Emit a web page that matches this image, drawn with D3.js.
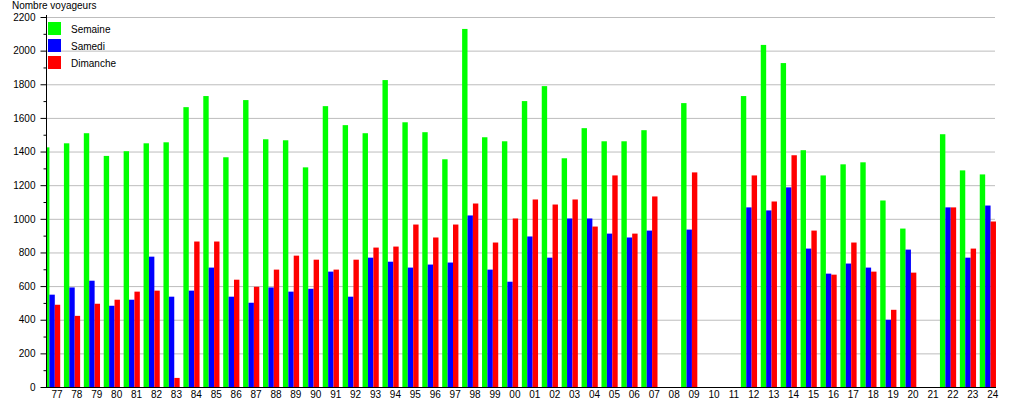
<!DOCTYPE html>
<html><head><meta charset="utf-8">
<script src="https://cdn.jsdelivr.net/npm/d3@7"></script>
<style>
body{margin:0;background:#fff;}
text{font-family:"Liberation Sans",Arial,sans-serif;}
</style></head>
<body>
<svg id="chart" width="1015" height="400"></svg>
<script>
const years = ["77","78","79","80","81","82","83","84","85","86","87","88","89","90","91","92","93","94","95","96","97","98","99","00","01","02","03","04","05","06","07","08","09","10","11","12","13","14","15","16","17","18","19","20","21","22","23","24"];
const semaine = [1425,1449,1509,1374,1402,1449,1455,1664,1730,1366,1706,1473,1467,1306,1670,1557,1509,1825,1574,1515,1354,2129,1485,1461,1700,1789,1360,1539,1461,1461,1527,null,1688,null,null,1730,2034,1926,1408,1258,1324,1336,1109,942,null,1503,1288,1264];
const samedi = [549,592,632,483,519,775,537,573,710,537,501,592,567,584,686,537,769,745,710,728,740,1020,698,626,895,769,1002,1002,912,889,930,null,936,null,null,1068,1050,1187,823,674,734,710,400,817,null,1068,769,1079];
const dimanche = [489,423,495,519,567,573,54,865,865,638,596,698,781,757,698,757,829,835,966,889,966,1091,859,1002,1115,1085,1115,954,1258,912,1133,null,1276,null,null,1258,1103,1378,930,668,859,686,459,680,null,1068,823,984];
const seriesNames = ["Semaine","Samedi","Dimanche"];
const seriesColors = ["#00ff00","#0000ff","#ff0000"];
const yTicks = [0,200,400,600,800,1000,1200,1400,1600,1800,2000,2200];
const yMinor = [100,300,500,700,900,1100,1300,1500,1700,1900,2100];
const yLabel = "Nombre voyageurs";

const svg = d3.select("#chart");
const axisX = 46, baseY = 387, topY = 17, gridEnd = 995;
const x = d3.scaleBand().domain(years).range([44, 44 + 48 * 19.91]).padding(0);
const y = d3.scaleLinear().domain([0, 2200]).range([baseY, topY]);
const bw = 5.4;

// gridlines
svg.append("g").selectAll("line").data(yTicks.filter(d => d > 0)).join("line")
  .attr("x1", axisX).attr("x2", gridEnd)
  .attr("y1", d => y(d) + 0.5).attr("y2", d => y(d) + 0.5)
  .attr("stroke", "#bdbdbd").attr("stroke-width", 1);

svg.append("defs").append("clipPath").attr("id", "clip")
  .append("rect").attr("x", axisX).attr("y", 0).attr("width", 1015 - axisX).attr("height", 400);

const series = [semaine, samedi, dimanche];
const gBars = svg.append("g").attr("clip-path", "url(#clip)");
series.forEach((vals, si) => {
  gBars.append("g").selectAll("rect")
    .data(years.map((yr, i) => ({yr, v: vals[i]})).filter(d => d.v != null))
    .join("rect")
    .attr("x", d => x(d.yr) + si * bw)
    .attr("width", bw)
    .attr("y", d => y(d.v))
    .attr("height", d => baseY - y(d.v))
    .attr("fill", seriesColors[si]);
});

// y axis
const yAxis = svg.append("g").attr("transform", `translate(${axisX + 0.5},0)`)
  .call(d3.axisLeft(y).tickValues(yTicks).tickSize(6).tickPadding(5).tickFormat(d3.format("d")));
svg.append("g").attr("transform", `translate(${axisX + 0.5},0)`)
  .call(d3.axisLeft(y).tickValues(yMinor).tickSize(3).tickFormat(""))
  .select(".domain").remove();
svg.selectAll("g.tick text").attr("font-size", 10).attr("font-family", "Liberation Sans, Arial, sans-serif").attr("fill", "#000");
yAxis.select(".domain").attr("d", `M0,${baseY}V${topY - 2}`);

// x axis
const xAxis = svg.append("g").attr("transform", `translate(3,${baseY + 0.5})`)
  .call(d3.axisBottom(x).tickSize(0).tickPadding(3));
xAxis.select(".domain").remove();
xAxis.selectAll("text").attr("font-size", 10).attr("font-family", "Liberation Sans, Arial, sans-serif").attr("fill", "#000");
svg.append("line").attr("x1", axisX).attr("x2", gridEnd + 1).attr("y1", baseY + 0.5).attr("y2", baseY + 0.5)
  .attr("stroke", "#000");

// y label
svg.append("text").attr("x", 12).attr("y", 9).attr("font-size", 10).text(yLabel);

// legend
const lg = svg.append("g");
seriesNames.forEach((n, i) => {
  lg.append("rect").attr("x", 48).attr("y", 22 + i * 17).attr("width", 13).attr("height", 13).attr("fill", seriesColors[i]);
  lg.append("text").attr("x", 71).attr("y", 33 + i * 17).attr("font-size", 10).text(n);
});
</script>
</body></html>
